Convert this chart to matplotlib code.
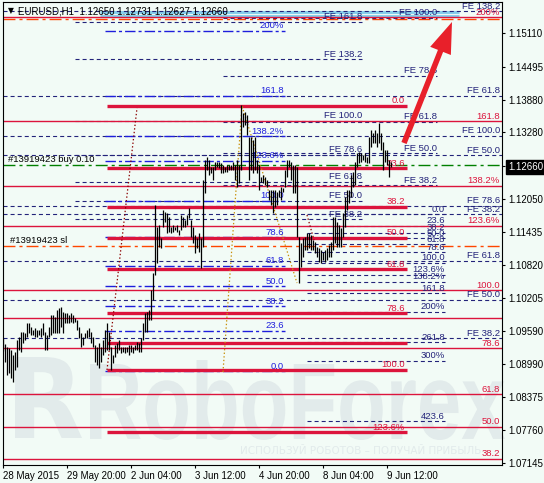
import numpy as np
import matplotlib.pyplot as plt
from matplotlib.textpath import TextPath
from matplotlib.patches import PathPatch
from matplotlib.font_manager import FontProperties
from matplotlib.transforms import Affine2D

plt.rcParams['lines.scale_dashes'] = False
plt.rcParams['font.family'] = ['Liberation Sans', 'DejaVu Sans']

# ---- H1 bars (high / low), one per hour starting 28 May 2015 ----
highs = [1.09466, 1.09355, 1.09300, 1.09281, 1.09244, 1.09151, 1.09207, 1.09429, 1.09485, 1.09577,
         1.09577, 1.09559, 1.09744, 1.09744, 1.09670, 1.09614, 1.09651, 1.09614, 1.09614, 1.09651,
         1.09744, 1.09577, 1.09522, 1.09670, 1.09892, 1.09892, 1.09855, 1.09985, 1.10022, 1.10040,
         1.09948, 1.09929, 1.09929, 1.09892, 1.09929, 1.09892, 1.09837, 1.09800, 1.09670, 1.09559,
         1.09485, 1.09559, 1.09614, 1.09651, 1.09577, 1.09485, 1.09337, 1.09300, 1.09374, 1.09300,
         1.09429, 1.09614, 1.09744, 1.09577, 1.09300, 1.09151, 1.09337, 1.09374, 1.09429, 1.09300,
         1.09300, 1.09300, 1.09300, 1.09337, 1.09337, 1.09300, 1.09337, 1.09392, 1.09374, 1.09466,
         1.09744, 1.09929, 1.09948, 1.09985, 1.10355, 1.10670, 1.11930, 1.11522, 1.11559, 1.11319,
         1.11837, 1.11800, 1.11782, 1.11708, 1.11522, 1.11559, 1.11522, 1.11559, 1.11467, 1.11745,
         1.11708, 1.11652, 1.11745, 1.11874, 1.11652, 1.11522, 1.11374, 1.11319, 1.11411, 1.11319,
         1.12393, 1.12763, 1.12819, 1.12763, 1.12634, 1.12634, 1.12726, 1.12726, 1.12726, 1.12708,
         1.12671, 1.12634, 1.12671, 1.12671, 1.12671, 1.12726, 1.12671, 1.12763, 1.12671, 1.13782,
         1.13634, 1.13652, 1.13597, 1.13189, 1.13189, 1.13134, 1.13189, 1.12763, 1.12671, 1.12448,
         1.12486, 1.12448, 1.12393, 1.12208, 1.12208, 1.12208, 1.12208, 1.12171, 1.12208, 1.12263,
         1.12245, 1.12578, 1.12763, 1.12763, 1.12726, 1.12671, 1.12671, 1.12634, 1.11337, 1.11226,
         1.11319, 1.11337, 1.11411, 1.11411, 1.11374, 1.11281, 1.11244, 1.11152, 1.11133, 1.11096,
         1.11059, 1.11096, 1.11133, 1.11189, 1.11244, 1.11708, 1.11708, 1.11615, 1.11559, 1.11504,
         1.11782, 1.12078, 1.12208, 1.12208, 1.12486, 1.12541, 1.12726, 1.12893, 1.12912, 1.12893,
         1.12856, 1.12893, 1.12819, 1.13189, 1.13319, 1.13264, 1.13319, 1.13264, 1.13449, 1.13264,
         1.13097, 1.12949, 1.12949, 1.12763, 1.12731]
lows = [1.09225, 1.09022, 1.08781, 1.08818, 1.08725, 1.08651, 1.08874, 1.08929, 1.09244, 1.09207,
        1.09374, 1.09429, 1.09485, 1.09559, 1.09522, 1.09522, 1.09485, 1.09485, 1.09522, 1.09485,
        1.09522, 1.09244, 1.09244, 1.09485, 1.09522, 1.09559, 1.09559, 1.09559, 1.09559, 1.09670,
        1.09559, 1.09744, 1.09744, 1.09744, 1.09763, 1.09744, 1.09763, 1.09614, 1.09466, 1.09300,
        1.09337, 1.09466, 1.09466, 1.09485, 1.09374, 1.09300, 1.09022, 1.08966, 1.08911, 1.09022,
        1.09151, 1.09207, 1.09244, 1.09244, 1.08874, 1.09003, 1.09114, 1.09188, 1.09244, 1.09188,
        1.09207, 1.09188, 1.09207, 1.09151, 1.09207, 1.09188, 1.09244, 1.09244, 1.09207, 1.09207,
        1.09429, 1.09577, 1.09577, 1.09800, 1.09800, 1.10170, 1.10633, 1.10855, 1.11152, 1.11133,
        1.11522, 1.11615, 1.11411, 1.11430, 1.11411, 1.11430, 1.11467, 1.11430, 1.11374, 1.11467,
        1.11522, 1.11522, 1.11559, 1.11689, 1.11337, 1.11226, 1.11041, 1.11133, 1.11059, 1.10763,
        1.11152, 1.12152, 1.12578, 1.12486, 1.12523, 1.12393, 1.12578, 1.12634, 1.12615, 1.12523,
        1.12523, 1.12541, 1.12541, 1.12578, 1.12578, 1.12578, 1.12393, 1.12263, 1.12337, 1.12578,
        1.13375, 1.13412, 1.13226, 1.12393, 1.12578, 1.12523, 1.12578, 1.12523, 1.12208, 1.12356,
        1.12337, 1.12300, 1.12263, 1.12022, 1.11930, 1.11782, 1.11893, 1.11930, 1.12078, 1.12022,
        1.12171, 1.12263, 1.12448, 1.12634, 1.12393, 1.12152, 1.12152, 1.11337, 1.10485, 1.10781,
        1.10967, 1.11096, 1.11096, 1.11133, 1.11096, 1.11096, 1.11041, 1.10967, 1.10874, 1.10855,
        1.10911, 1.10874, 1.10911, 1.10967, 1.10967, 1.11096, 1.11226, 1.11152, 1.11152, 1.11152,
        1.11337, 1.11522, 1.11837, 1.11967, 1.12078, 1.12263, 1.12300, 1.12634, 1.12708, 1.12726,
        1.12763, 1.12726, 1.12708, 1.12708, 1.13004, 1.13078, 1.13078, 1.13004, 1.13078, 1.12949,
        1.12578, 1.12726, 1.12671, 1.12448, 1.12627]

date_ticks = [0, 32, 64, 96, 128, 160, 192]
date_labels = ['28 May 2015', '29 May 20:00', '2 Jun 04:00', '3 Jun 12:00',
               '4 Jun 20:00', '8 Jun 04:00', '9 Jun 12:00']
price_ticks = [1.15110, 1.14495, 1.13880, 1.13280, 1.12660, 1.12050, 1.11435,
               1.10820, 1.10205, 1.09590, 1.08990, 1.08375, 1.07760, 1.07145]
last_price = 1.12660

# ---- Fibonacci objects: anchor prices (0 % and 100 %), levels, labels ----
red_thin_p0, red_thin_p100 = 1.05299, 1.10355
red_thin_levels = [0.382, 0.5, 0.618, 0.786, 0.898, 1.0, 1.236, 1.382, 1.618, 2.0]
red_thin_labels = ['38.2', '50.0', '61.8', '78.6', '', '100.0', '123.6%', '138.2%', '161.8', '200%']

red_thick_p0, red_thick_p100 = 1.13764, 1.08874
red_thick_levels = [0.0, 0.236, 0.382, 0.5, 0.618, 0.786, 0.898, 1.0, 1.236, 1.382]
red_thick_labels = ['0.0', '23.6', '38.2', '50.0', '61.8', '78.6', '', '100.0', '123.6%', '138.2%']

blue_p0, blue_p100 = 1.08855, 1.12004
blue_levels = [0.0, 0.236, 0.382, 0.5, 0.618, 0.786, 1.0, 1.236, 1.382, 1.618, 2.0]
blue_labels = ['0.0', '23.6', '38.2', '50.0', '61.8', '78.6', '100.0', '123.6%', '138.2%', '161.8', '200%']

fe1_p0, fe1_p100 = 1.10528, 1.13495
fe1_levels = [0.382, 0.5, 0.618, 0.786, 1.0, 1.382, 1.618]
fe1_labels = ['FE 38.2', 'FE 50.0', 'FE 61.8', 'FE 78.6', 'FE 100.0', 'FE 138.2', 'FE 161.8']

fe2_p0, fe2_p100 = 1.10374, 1.15394
fe2_levels = [0.382, 0.5, 0.618, 0.786, 1.0]
fe2_labels = ['FE 38.2', 'FE 50.0', 'FE 61.8', 'FE 78.6', 'FE 100.0']

fe3_p0, fe3_p100 = 1.08225, 1.17487
fe3_levels = [0.382, 0.5, 0.618]
fe3_labels = ['FE 38.2', 'FE 50.0', 'FE 61.8']

fe4_p0, fe4_p100 = 1.07151, 1.13208
fe4_levels = [0.382, 0.5, 0.618, 0.786, 1.0, 1.382]
fe4_labels = ['FE 38.2', 'FE 50.0', 'FE 61.8', 'FE 78.6', 'FE 100.0', 'FE 138.2']

fe5_p0, fe5_p100 = 1.11763, 1.10856
fe5_levels = [0.0, 0.236, 0.382, 0.5, 0.618, 0.786, 1.0, 1.236, 1.382, 1.618, 2.0, 2.618, 3.0, 4.236]
fe5_labels = ['0.0', '23.6', '38.2', '50.0', '61.8', '78.6', '100.0', '123.6%', '138.2%',
              '161.8', '200%', '261.8', '300%', '423.6']

buy_price = 1.12668
sl_price = 1.11170
tp_price = 1.15375
band_prices = [1.15505, 1.15431]

trend_red = ([52, 67], [1.08874, 1.13727])
trend_red2 = ([152, 155.5], [1.11745, 1.11281])
trend_gold = ([110, 119.5, 147], [1.08837, 1.13764, 1.10485])
arrow_tail = (200.5, 1.13078)
arrow_tip = (224.5, 1.15320)

# ---- figure ----
W, H = 544, 483
bg = '#F2FBF6'
fig = plt.figure(figsize=(W / 100, H / 100), dpi=100)
fig.patch.set_facecolor(bg)

# watermark layer (pixel coordinates)
wm = fig.add_axes([0, 0, 1, 1])
wm.set_xlim(0, W)
wm.set_ylim(H, 0)
wm.axis('off')
wm_col = '#E2EBEB'


def put_path(text, box, prop):
    tp = TextPath((0, 0), text, size=100, prop=prop)
    ext = tp.get_extents()
    x0, y0, x1, y1 = box
    tr = (Affine2D().translate(-ext.x0, -ext.y0)
          .scale((x1 - x0) / ext.width, -(y1 - y0) / ext.height)
          .translate(x0, y1))
    wm.add_patch(PathPatch(tr.transform_path(tp), fc=wm_col, ec='none', zorder=0))


put_path('R', (15, 357, 82, 438), FontProperties(family='DejaVu Sans', weight='bold'))
put_path('RoboForex', (90, 360, 505, 440), FontProperties(family='Liberation Sans', weight='bold'))
wm.text(240, 451, 'ИСПОЛЬЗУЙ РОБОТОВ – ПОЛУЧАЙ ПРИБЫЛЬ', fontsize=7.5, color=wm_col,
        va='center', ha='left', family='DejaVu Sans')

# main chart
ax = fig.add_axes([2.5 / W, 1 - 465 / H, 499.5 / W, 463 / H])
ax.set_facecolor('none')
ax.set_xlim(-0.25, 249.5)
ax.set_ylim(1.07114, 1.15690)
XL, XR = -0.25, 249.5

navy = '#23237a'
blue = '#1E1EDC'
red = '#DC143C'
dash_navy = (0, (2.9, 2.2))
dash_blue = (0, (7.5, 2.2, 2.2, 2.2))
dash_order = (0, (8.6, 2.9, 2.2, 2.9))


def draw_fibo(p0, p100, levels, labels, x0, x1, lx, color, tcolor, lw, ls, z=2):
    for r, lab in zip(levels, labels):
        y = p0 + (p100 - p0) * r
        ax.plot([x0, x1], [y, y], color=color, lw=lw, ls=ls, zorder=z, solid_capstyle='butt')
        if lab:
            ax.annotate(lab, (lx, y), xytext=(0, 1.8), textcoords='offset points',
                        ha='right', va='baseline', color=tcolor, fontsize=6.8, zorder=2.5)


# light blue selected bands and order lines
ax.plot([XL, XR], [tp_price, tp_price], color='#FF4500', lw=1, ls=dash_order, zorder=1)
for bp in band_prices:
    ax.plot([48.5, 228], [bp, bp], color='#87CEEB', lw=2.2, zorder=1.2, solid_capstyle='butt')
ax.plot([XL, XR], [buy_price, buy_price], color='#008000', lw=1, ls=dash_order, zorder=1)
ax.plot([XL, XR], [sl_price, sl_price], color='#FF4500', lw=1, ls=dash_order, zorder=1)
ax.annotate('#13919423 buy 0.10', (2.5, buy_price), xytext=(0, 2), textcoords='offset points',
            ha='left', va='baseline', fontsize=6.8, color='black', zorder=2.5)
ax.annotate('#13919423 sl', (3.5, sl_price), xytext=(0, 2), textcoords='offset points',
            ha='left', va='baseline', fontsize=6.8, color='black', zorder=2.5)

draw_fibo(fe3_p0, fe3_p100, fe3_levels, fe3_labels, XL, XR, 248.5, navy, navy, 0.8, dash_navy)
draw_fibo(fe4_p0, fe4_p100, fe4_levels, fe4_labels, XL, XR, 248.5, navy, navy, 0.8, dash_navy)
draw_fibo(fe1_p0, fe1_p100, fe1_levels, fe1_labels, 36, 179.5, 179.5, navy, navy, 0.8, dash_navy)
draw_fibo(fe2_p0, fe2_p100, fe2_levels, fe2_labels, 110, 217, 217, navy, navy, 0.8, dash_navy)
draw_fibo(fe5_p0, fe5_p100, fe5_levels, fe5_labels, 152, 221, 221, navy, navy, 0.8, dash_navy)
draw_fibo(blue_p0, blue_p100, blue_levels, blue_labels, 51, 141, 140.5, blue, blue, 1.0, dash_blue)
draw_fibo(red_thin_p0, red_thin_p100, red_thin_levels, red_thin_labels, XL, XR, 248.5,
          red, red, 1.0, '-')
draw_fibo(red_thick_p0, red_thick_p100, red_thick_levels, red_thick_labels, 52, 202, 201,
          red, red, 2.4, '-')

# dotted trend lines
ax.plot(*trend_red, color='#8B0000', lw=0.9, ls=(0, (1, 1.6)), zorder=2.2)
ax.plot(*trend_red2, color='#8B0000', lw=0.9, ls=(0, (1, 1.6)), zorder=2.2)
ax.plot(*trend_gold, color='#C8900A', lw=0.9, ls=(0, (1, 1.6)), zorder=2.2)

# price bars
xs = np.arange(len(highs))
ax.vlines(xs, lows, highs, colors='black', linewidth=0.9, zorder=3)

# red arrow
ax.annotate('', xy=arrow_tip, xytext=arrow_tail,
            arrowprops=dict(arrowstyle='simple,head_length=1.4,head_width=1.0,tail_width=0.25',
                            fc='#E8202A', ec='none', mutation_scale=16, shrinkA=0, shrinkB=0),
            zorder=4)

# axes / ticks
for s in ax.spines.values():
    s.set_color('black')
    s.set_linewidth(0.8)
ax.yaxis.tick_right()
ax.set_yticks(price_ticks)
ax.set_yticklabels([f'{v:.5f}' for v in price_ticks])
ax.tick_params(axis='y', direction='out', length=2.5, width=0.8, pad=2, labelsize=7)
ax.set_xticks(date_ticks)
ax.set_xticklabels(date_labels)
ax.tick_params(axis='x', direction='out', length=2.5, width=0.8, pad=2, labelsize=7)
for lbl in ax.get_xticklabels():
    lbl.set_ha('left')
for v, lbl in zip(price_ticks, ax.get_yticklabels()):
    if v == last_price:
        lbl.set_color('white')
        lbl.set_bbox(dict(facecolor='black', edgecolor='black', pad=1.5))

# header
fig.text(8 / W, 1 - 11 / H, '▼', fontsize=5.5, color='black', va='center', family='DejaVu Sans')
fig.text(18 / W, 1 - 11 / H, 'EURUSD,H1  1.12650 1.12731 1.12627 1.12660',
         fontsize=7, color='black', va='center')

fig.savefig('out.png', dpi=100, facecolor=bg)
